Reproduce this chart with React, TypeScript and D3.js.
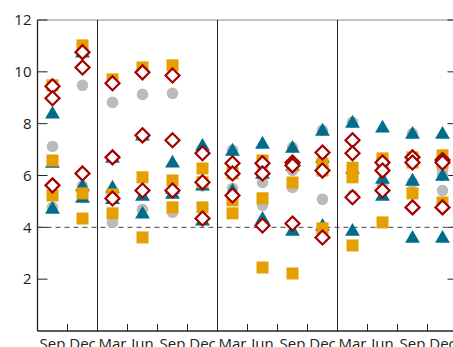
import React from "react";
import * as d3 from "d3";

const categories = ["Sep", "Dec", "Mar", "Jun", "Sep", "Dec", "Mar", "Jun", "Sep", "Dec", "Mar", "Jun", "Sep", "Dec"];
const yTicks = [2, 4, 6, 8, 10, 12];
const yearBreaks = [2, 6, 10];
const thresholdValue = 4;

const grayValues = [
  [8.98, 7.12, 4.77], [10.8, 9.48, 5.6], [8.82, 5.2, 4.19], [9.13, 7.5, 4.69], [9.17, 7.36, 4.58],
  [7.0, 5.6, 4.3], [6.97, 6.3, 5.5], [6.3, 5.73, 4.85], [7.08, 6.2, 5.54], [7.74, 6.2, 5.08],
  [8.05, 5.93, 5.23], [6.3, 5.62, 5.4], [7.62, 6.5, 5.73], [6.19, 6.0, 5.42],
];
const tealValues = [
  [8.4, 6.5, 4.73], [10.76, 5.6, 5.15], [6.7, 5.54, 5.1], [7.55, 5.23, 4.54], [6.51, 5.31, 5.5],
  [7.16, 5.62, 4.27], [6.97, 5.42, 6.2], [7.24, 6.08, 4.34], [7.08, 6.39, 3.88], [7.74, 6.7, 4.07],
  [8.05, 6.27, 3.88], [7.86, 5.89, 5.23], [7.62, 5.81, 3.61], [7.62, 6.0, 3.61],
];
const orangeValues = [
  [9.48, 6.58, 5.23], [11.02, 5.31, 4.34], [9.71, 5.27, 4.54], [10.17, 5.93, 3.61], [10.25, 5.81, 4.77],
  [6.27, 5.74, 4.77], [6.08, 5.04, 4.54], [6.58, 5.12, 2.45], [6.39, 5.73, 2.22], [6.45, 6.19, 3.96],
  [6.3, 5.93, 3.3], [6.66, 6.5, 4.19], [6.7, 6.5, 5.31], [6.78, 6.5, 4.96],
];
const redValues = [
  [9.44, 8.98, 5.62], [10.76, 10.17, 6.08], [9.56, 6.7, 5.11], [9.98, 7.55, 5.42], [9.86, 7.36, 5.42],
  [6.86, 5.74, 4.34], [6.47, 6.08, 5.23], [6.47, 6.08, 4.07], [6.5, 6.39, 4.15], [6.89, 6.19, 3.61],
  [7.36, 6.86, 5.16], [6.5, 6.19, 5.42], [6.7, 6.5, 4.77], [6.6, 6.5, 4.77],
];

const W = 453, H = 347;
const left = 37.5, top = 20, bottom = 331, right = 457.5;
const font = "'Open Sans', 'Noto Sans', sans-serif";

export default function App() {
  const x = d3.scaleBand<number>().domain(categories.map((_, i) => i)).range([left, right]).padding(0);
  const y = d3.scaleLinear().domain([0, 12]).range([bottom, top]);
  const cx = (i: number) => (x(i) as number) + x.bandwidth() / 2;
  const bx = (i: number) => x(i) as number;

  const tri = d3.symbol().type(d3.symbolTriangle).size(95)() as string;
  const diamondPath = "M0,-7 L7,0 L0,7 L-7,0 Z";

  const flat = (arr: number[][]) => arr.flatMap((vals, i) => vals.map((v, k) => ({ i, v, k })));

  return (
    <svg width={W} height={H} style={{ position: "absolute", left: 0, top: 0, background: "#fff" }}>
      {/* frame */}
      <line x1={left} x2={right} y1={top} y2={top} stroke="#888" strokeWidth={1} />
      <line x1={left} x2={left} y1={top} y2={bottom} stroke="#222" strokeWidth={1.3} />
      <line x1={left} x2={right} y1={bottom} y2={bottom} stroke="#222" strokeWidth={1.3} />
      <line x1={right} x2={right} y1={top} y2={bottom} stroke="#222" strokeWidth={1.3} />
      {/* year separators */}
      {yearBreaks.map((b) => (
        <line key={"yb" + b} x1={bx(b)} x2={bx(b)} y1={top} y2={bottom} stroke="#222" strokeWidth={1} />
      ))}
      {/* quarter ticks */}
      {categories.map((_, i) =>
        i === 0 || yearBreaks.includes(i) ? null : (
          <line key={"qt" + i} x1={bx(i)} x2={bx(i)} y1={bottom} y2={bottom - 7} stroke="#222" strokeWidth={1} />
        )
      )}
      {/* y ticks */}
      {yTicks.map((t) => (
        <g key={"yt" + t}>
          <line x1={left} x2={left + 10} y1={y(t)} y2={y(t)} stroke="#222" strokeWidth={1} />
          <line x1={right - 10} x2={right} y1={y(t)} y2={y(t)} stroke="#222" strokeWidth={1} />
          <text x={left - 6} y={y(t)} dy="0.35em" textAnchor="end" fontFamily={font} fontSize={15} fill="#222">
            {t}
          </text>
        </g>
      ))}
      {/* threshold */}
      <line x1={left} x2={right} y1={y(thresholdValue)} y2={y(thresholdValue)} stroke="#444" strokeWidth={1} strokeDasharray="5,4" />
      {/* category labels */}
      {categories.map((c, i) => (
        <text key={"cl" + i} x={cx(i)} y={349} textAnchor="middle" fontFamily={font} fontSize={15} fill="#222">
          {c}
        </text>
      ))}
      {/* gray circles */}
      {flat(grayValues).map((d) => (
        <circle key={"g" + d.i + "-" + d.k} cx={cx(d.i)} cy={y(d.v)} r={5.8} fill="#BBBBBB" />
      ))}
      {/* teal triangles */}
      {flat(tealValues).map((d) => (
        <path key={"t" + d.i + "-" + d.k} d={tri} transform={`translate(${cx(d.i)},${y(d.v) + 1})`} fill="#006E8A" />
      ))}
      {/* orange squares */}
      {flat(orangeValues).map((d) => (
        <rect key={"o" + d.i + "-" + d.k} x={cx(d.i) - 6} y={y(d.v) - 6} width={12} height={12} fill="#E69F00" />
      ))}
      {/* red diamonds */}
      {flat(redValues).map((d) => (
        <path key={"r" + d.i + "-" + d.k} d={diamondPath} transform={`translate(${cx(d.i)},${y(d.v)})`} fill="#fff" stroke="#A30000" strokeWidth={2.2} />
      ))}
    </svg>
  );
}
